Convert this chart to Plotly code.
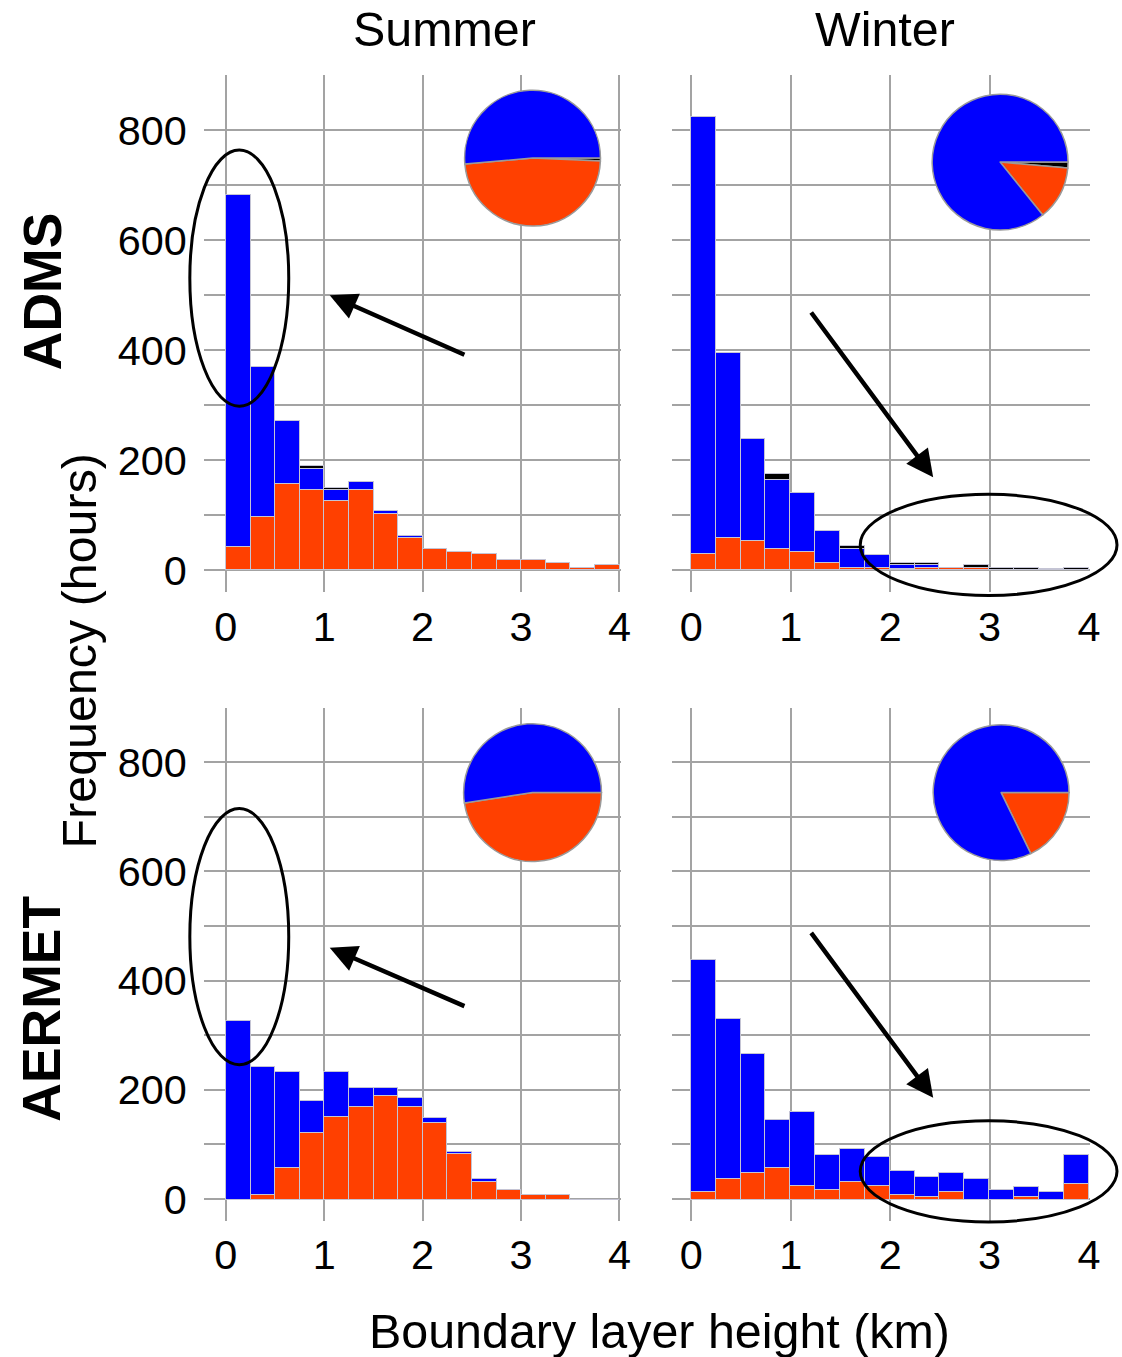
import plotly.graph_objects as go

# reference picture size and the figure size used to draw it
RW, RH = 1122, 1357
FW, FH = 1132, 1360
SX, SY = FW / RW, FH / RH

# ---------------- data ----------------
bin_centers = [0.125 + 0.25 * i for i in range(16)]
x_ticks = [0, 1, 2, 3, 4]
y_ticks = [0, 100, 200, 300, 400, 500, 600, 700, 800, 900]
y_tick_text = ["0", "", "200", "", "400", "", "600", "", "800", ""]
categories = ["Convective", "Stable", "Neutral"]

adms_summer_conv = [43, 97, 157, 146, 126, 146, 102, 58, 39, 34, 29, 18, 18, 13, 5, 9]
adms_summer_stab = [639, 273, 115, 38, 20, 14, 5, 4, 0, 0, 0, 0, 0, 0, 0, 0]
adms_summer_neut = [0, 0, 0, 6, 3, 0, 0, 0, 0, 0, 0, 0, 0, 0, 0, 0]

adms_winter_conv = [29, 58, 54, 38, 34, 14, 5, 5, 2, 5, 5, 5, 0, 0, 0, 0]
adms_winter_stab = [795, 337, 185, 127, 107, 58, 33, 23, 8, 5, 0, 0, 0, 0, 2, 0]
adms_winter_neut = [0, 0, 0, 10, 0, 0, 6, 0, 4, 4, 0, 5, 4, 4, 0, 4]

aermet_summer_conv = [0, 9, 58, 121, 151, 170, 189, 170, 141, 83, 33, 17, 8, 8, 0, 0]
aermet_summer_stab = [327, 234, 175, 59, 82, 34, 15, 15, 9, 4, 4, 0, 0, 0, 0, 0]
aermet_summer_neut = [0] * 16

aermet_winter_conv = [13, 38, 48, 58, 24, 18, 33, 24, 9, 5, 14, 0, 0, 5, 0, 28]
aermet_winter_stab = [425, 293, 219, 87, 136, 64, 59, 53, 43, 37, 34, 38, 18, 18, 13, 54]
aermet_winter_neut = [0] * 16

# pie fractions (%) in order Neutral, Convective, Stable
pie_labels = ["Neutral", "Convective", "Stable"]
pie_adms_summer = [0.7, 47.9, 51.4]
pie_adms_winter = [1.4, 12.8, 85.8]
pie_aermet_summer = [0.0, 47.6, 52.4]
pie_aermet_winter = [0.0, 17.8, 82.2]

# ---------------- style ----------------
BLUE = "#0000FF"
ORANGE = "#FF4000"
BLACK = "#000000"
GRID = "#a3a3a3"
FONT = "Liberation Sans, Arial, sans-serif"


def px_x(p):
    return p / RW


def px_y(p):
    return 1 - p / RH


def fs(s):
    return round(s * SX, 1)


fig = go.Figure()

panels = [
    ("", adms_summer_conv, adms_summer_stab, adms_summer_neut, pie_adms_summer,
     (204, 622), (75, 592), [-0.223, 4.02], (533, 158), 68),
    ("2", adms_winter_conv, adms_winter_stab, adms_winter_neut, pie_adms_winter,
     (673, 1091), (75, 592), [-0.19, 4.01], (1001, 162), 68),
    ("3", aermet_summer_conv, aermet_summer_stab, aermet_summer_neut, pie_aermet_summer,
     (204, 622), (707, 1220), [-0.223, 4.02], (533, 792), 69),
    ("4", aermet_winter_conv, aermet_winter_stab, aermet_winter_neut, pie_aermet_winter,
     (673, 1091), (707, 1220), [-0.19, 4.01], (1002, 792), 68),
]

bar_line = dict(color="#c4c4d4", width=1)

for suf, conv, stab, neut, pie, xd, yd, xr, pc, r in panels:
    xa = "x" + suf
    ya = "y" + suf
    for vals, col, name in [(conv, ORANGE, categories[0]),
                            (stab, BLUE, categories[1]),
                            (neut, BLACK, categories[2])]:
        fig.add_trace(go.Bar(
            x=bin_centers, y=vals, width=0.25, name=name,
            marker=dict(color=col, line=bar_line),
            xaxis=xa, yaxis=ya, showlegend=False,
        ))
    fig.add_trace(go.Pie(
        values=pie, labels=pie_labels,
        marker=dict(colors=[BLACK, ORANGE, BLUE], line=dict(color="#9a9a9a", width=1.5)),
        sort=False, direction="clockwise", rotation=90,
        textinfo="none", hoverinfo="label+percent", showlegend=False,
        domain=dict(x=[px_x(pc[0] - r), px_x(pc[0] + r)],
                    y=[px_y(pc[1] + r), px_y(pc[1] - r)]),
    ))
    left = suf in ("", "3")
    fig.layout["xaxis" + suf] = dict(
        domain=[px_x(xd[0]), px_x(xd[1])], range=xr,
        tickvals=x_ticks, ticktext=[str(v) for v in x_ticks],
        showgrid=True, gridcolor=GRID, gridwidth=2, zeroline=False,
        showline=False, ticks="", anchor=ya,
        tickfont=dict(family=FONT, size=fs(41), color="black"),
        ticklabelstandoff=6, fixedrange=True,
    )
    fig.layout["yaxis" + suf] = dict(
        domain=[px_y(yd[1]), px_y(yd[0])], range=[-40, 900],
        tickvals=y_ticks, ticktext=y_tick_text, showticklabels=left,
        showgrid=True, gridcolor=GRID, gridwidth=2, zeroline=False,
        showline=False, ticks="", anchor=xa,
        tickfont=dict(family=FONT, size=fs(41), color="black"),
        ticklabelstandoff=16, fixedrange=True,
    )

# ---------------- ellipses ----------------
ellipses = [(190, 150, 289, 406), (861, 494, 1118, 595),
            (190, 808, 289, 1064), (861, 1120, 1118, 1221)]
shapes = []
for x0, y0, x1, y1 in ellipses:
    shapes.append(dict(type="circle", xref="paper", yref="paper",
                       x0=px_x(x0), x1=px_x(x1), y0=px_y(y1), y1=px_y(y0),
                       line=dict(color="black", width=3), layer="above"))

# ---------------- arrows ----------------
arrows = [((330, 295), (465, 355)), ((934, 477), (812, 311)),
          ((330, 947), (465, 1006)), ((934, 1097), (812, 931))]
annotations = []
for tip, tail in arrows:
    annotations.append(dict(
        x=px_x(tip[0]), y=px_y(tip[1]), xref="paper", yref="paper",
        ax=(tail[0] - tip[0]) * SX, ay=(tail[1] - tip[1]) * SY,
        axref="pixel", ayref="pixel",
        text="", showarrow=True, arrowhead=2, arrowsize=1.2, arrowwidth=4.5,
        arrowcolor="black", standoff=0,
    ))


# ---------------- texts ----------------
def txt(x, y, s, size, bold=False, angle=0):
    return dict(x=px_x(x), y=px_y(y), xref="paper", yref="paper",
                text=("<b>%s</b>" % s) if bold else s, showarrow=False,
                xanchor="center", yanchor="middle", textangle=angle,
                font=dict(family=FONT, size=fs(size), color="black"))


annotations += [
    txt(445, 29, "Summer", 48),
    txt(886, 29, "Winter", 48),
    txt(42, 291, "ADMS", 53, bold=True, angle=-90),
    txt(42, 1008, "AERMET", 53, bold=True, angle=-90),
    txt(80, 650, "Frequency (hours)", 48, angle=-90),
    txt(660, 1330, "Boundary layer height (km)", 48),
]

fig.update_layout(
    width=FW, height=FH, margin=dict(l=0, r=0, t=0, b=0),
    paper_bgcolor="white", plot_bgcolor="white",
    barmode="stack", bargap=0,
    shapes=shapes, annotations=annotations,
    font=dict(family=FONT, color="black"),
)

fig.write_html(
    "out.html",
    config={"displayModeBar": False},
    post_script=("document.body.style.margin='0';"
                 "document.body.style.padding='0';"
                 "document.documentElement.style.overflow='hidden';"
                 "document.body.style.overflow='hidden';"),
)
